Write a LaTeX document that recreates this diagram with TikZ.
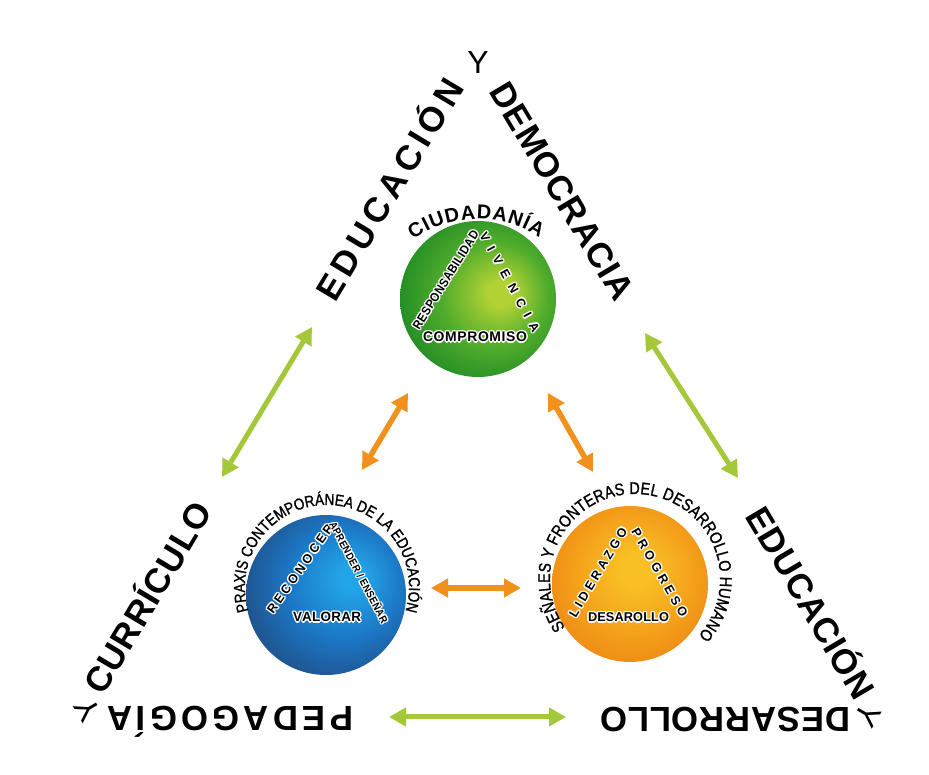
\documentclass[tikz,border=0pt]{standalone}
\usepackage{fontspec}
\setmainfont{Liberation Sans}
\newfontfamily\narrowsans[FakeStretch=0.85,FakeBold=1.2]{Liberation Sans}
\newfontfamily\narrowbold[FakeStretch=0.9]{Liberation Sans Bold}
\usetikzlibrary{arrows.meta,decorations.text}

\definecolor{arrowgreen}{RGB}{163,200,58}
\definecolor{arroworange}{RGB}{240,145,30}
\definecolor{gIn}{RGB}{178,210,52}
\definecolor{gMid}{RGB}{80,172,44}
\definecolor{gOut}{RGB}{28,136,36}
\definecolor{bIn}{RGB}{34,164,232}
\definecolor{bMid}{RGB}{28,118,196}
\definecolor{bOut}{RGB}{32,74,128}
\definecolor{oIn}{RGB}{248,192,36}
\definecolor{oMid}{RGB}{245,165,28}
\definecolor{oOut}{RGB}{238,136,20}

\pgfdeclareradialshading{greenball}{\pgfpoint{8bp}{2bp}}{color(0bp)=(gIn); color(4bp)=(gIn); color(17bp)=(gMid); color(31bp)=(gOut); color(50bp)=(gOut)}
\pgfdeclareradialshading{blueball}{\pgfpoint{9bp}{6bp}}{color(0bp)=(bIn); color(4bp)=(bIn); color(18bp)=(bMid); color(33bp)=(bOut); color(50bp)=(bOut)}
\pgfdeclareradialshading{orangeball}{\pgfpoint{2bp}{5bp}}{color(0bp)=(oIn); color(5bp)=(oIn); color(17bp)=(oMid); color(30bp)=(oOut); color(50bp)=(oOut)}

\newcommand\outerfmt{\fontsize{35}{40}\selectfont\bfseries}
\newcommand\arcfmtA{\fontsize{20}{24}\selectfont\bfseries}
\newcommand\arcfmtB{\narrowsans\fontsize{16}{19}\selectfont}
\newcommand\arcfmtC{\narrowsans\fontsize{17}{20}\selectfont}
\newcommand\narrowfmt{\narrowbold\fontsize{12.5}{15}\selectfont}
\newcommand\smallfmt{\fontsize{12.5}{15}\selectfont\bfseries}
\newcommand\apfmt{\narrowbold\fontsize{10.5}{13}\selectfont}
\newcommand\basefmt{\fontsize{14}{16}\selectfont\bfseries}
\newcommand\basefmtB{\fontsize{13.5}{16}\selectfont\bfseries}
\newcommand\basefmtC{\fontsize{12.8}{15}\selectfont\bfseries}

% text along a straight baseline, with a white halo
\newcommand\halo[4]{%
  \foreach \hx/\hy in {1.4/0,-1.4/0,0/1.4,0/-1.4,1/1,-1/1,1/-1,-1/-1}{%
    \path[shift={(\hx,\hy)},decorate,decoration={text along path,text align=fit to path,text={|#3\color{white}|#4}}] #1 -- #2;
  }%
  \path[decorate,decoration={text along path,text align=fit to path,text={|#3|#4}}] #1 -- #2;
}

\begin{document}
\begin{tikzpicture}[x=1bp,y=1bp,
  garrow/.style={draw=arrowgreen,line width=5bp,{Triangle[length=17bp,width=18bp]}-{Triangle[length=17bp,width=18bp]}},
  oarrow/.style={draw=arroworange,line width=5.5bp,{Triangle[length=17bp,width=18bp]}-{Triangle[length=17bp,width=18bp]}},
  ball/.style={circle,inner sep=0pt,minimum size=#1},
  ywordup/.style={font=\fontsize{32}{36}\selectfont,inner sep=0pt},
  outerword/.style={decorate,decoration={text along path,text align=fit to path,text={|\outerfmt|#1}}}
]
\useasboundingbox (0,0) rectangle (929,775);
\fill[white] (0,0) rectangle (929,775);

% circles
\node[ball=156bp,shading=greenball] (G) at (478,476) {};
\node[ball=160bp,shading=blueball] (B) at (326,180) {};
\node[ball=156bp,shading=orangeball] (O) at (630,191) {};

% arc-text centres
\coordinate (cg) at (478,446);
\coordinate (cb) at (327,188);
\coordinate (co) at (635,196);

\path[decorate,decoration={text along path,text align=fit to path,text={|\arcfmtA|CIUDADANÍA}}]
  ([shift={(126:110)}]cg) arc[start angle=126,end angle=56,radius=110];
\path[decorate,decoration={text along path,text align=fit to path,text={|\arcfmtB|PRAXIS CONTEMPORÁNEA DE LA EDUCACIÓN}}]
  ([shift={(197:82)}]cb) arc[start angle=197,end angle=-16,radius=82];
\path[decorate,decoration={text along path,text align=fit to path,text={|\arcfmtC|SEÑALES Y FRONTERAS DEL DESARROLLO HUMANO}}]
  ([shift={(215:85)}]co) arc[start angle=215,end angle=-42,radius=85];

% inner triangles
\halo{(419.3,444.5)}{(479.5,541.3)}{\narrowfmt}{RESPONSABILIDAD}
\halo{(479.1,539.5)}{(532.9,441.7)}{\smallfmt}{VIVENCIA}
\halo{(423,433)}{(527,433)}{\basefmt}{COMPROMISO}

\halo{(273.4,160.6)}{(334.2,246.8)}{\smallfmt}{RECONOCER}
\halo{(329.2,250.5)}{(381.8,150.7)}{\apfmt}{APRENDER / ENSEÑAR}
\halo{(293,153)}{(361,153)}{\basefmtB}{VALORAR}

\halo{(575.8,156.7)}{(628,244.3)}{\smallfmt}{LIDERAZGO}
\halo{(631,243.3)}{(681,156.7)}{\smallfmt}{PROGRESO}
\halo{(588,153)}{(669,153)}{\basefmtC}{DESAROLLO}

% outer triangle of words
\path[outerword=EDUCACIÓN] (335,471) -- (465,687);
\path[outerword=DEMOCRACIA] (488.6,683.6) -- (615,472);
\path[outerword=EDUCACIÓN] (744.7,258.7) -- (854.9,73.1);
\path[outerword=DESARROLLO] (850,67) -- (600,67);
\path[outerword=PEDAGOGÍA] (353,68) -- (107,68);
\path[outerword=CURRÍCULO] (103,78) -- (213.8,263.6);

\node[ywordup] (ytop) at (478,712) {Y};
\node[ywordup,rotate=120] (ybl) at (88,65) {Y};
\node[ywordup,rotate=-120] (ybr) at (868,60) {Y};

% arrows
\coordinate (gl1) at (222,298);
\coordinate (gl2) at (312,448);
\coordinate (gr1) at (645,442);
\coordinate (gr2) at (738,297);
\coordinate (gb1) at (389,58);
\coordinate (gb2) at (566,58);
\coordinate (ol1) at (362,305);
\coordinate (ol2) at (408,382);
\coordinate (or1) at (548,382);
\coordinate (or2) at (593,303);
\coordinate (om1) at (431,187);
\coordinate (om2) at (521,187);

\draw[garrow] (gl1) -- (gl2);
\draw[garrow] (gr1) -- (gr2);
\draw[garrow] (gb1) -- (gb2);
\draw[oarrow] (ol1) -- (ol2);
\draw[oarrow] (or1) -- (or2);
\draw[oarrow] (om1) -- (om2);
\end{tikzpicture}
\end{document}
